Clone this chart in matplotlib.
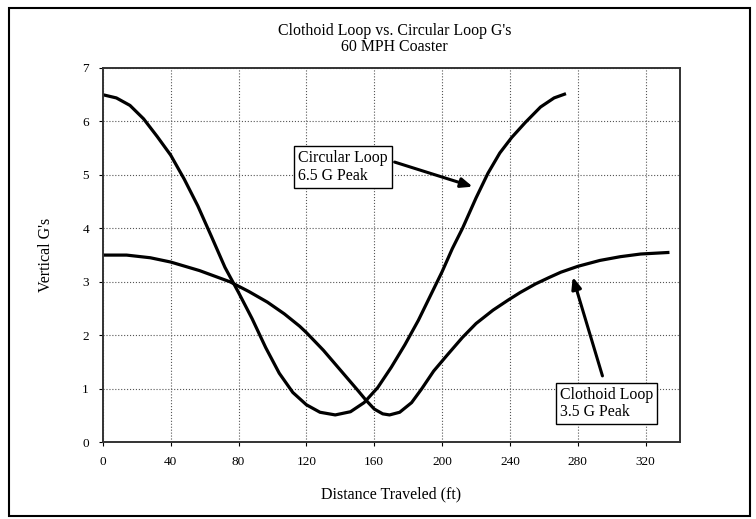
"""
Clothoid vs. circular loop vertical G's for a 60 MPH coaster.
"""

import matplotlib.pyplot as plt
from matplotlib.patches import Rectangle

# ── Data ──────────────────────────────────────────────────────────────────

circular_x = [0, 8, 16, 24, 32, 40, 48, 56, 64, 72, 80, 88, 96, 104, 112, 120,
              128, 137, 146, 154, 162, 170, 178, 186, 194, 200, 206, 212, 220,
              227, 234, 241, 249, 258, 266, 273]
circular_g = [6.50, 6.44, 6.30, 6.05, 5.72, 5.37, 4.92, 4.42, 3.85, 3.27, 2.80,
              2.31, 1.77, 1.29, 0.93, 0.70, 0.56, 0.51, 0.57, 0.74, 1.02, 1.40,
              1.82, 2.28, 2.80, 3.19, 3.62, 4.00, 4.57, 5.03, 5.41, 5.70, 5.98,
              6.27, 6.44, 6.52]

clothoid_x = [0, 14, 28, 40, 57, 75, 86, 97, 107, 116, 120, 130, 140, 150, 155,
              160, 165, 169, 175, 182, 188, 195, 203, 212, 220, 230, 239, 246,
              255, 263, 270, 280, 293, 305, 317, 334]
clothoid_g = [3.50, 3.50, 3.45, 3.37, 3.21, 3.00, 2.82, 2.62, 2.40, 2.17, 2.05,
              1.72, 1.35, 0.98, 0.79, 0.62, 0.53, 0.51, 0.56, 0.74, 1.00, 1.33,
              1.63, 1.96, 2.22, 2.47, 2.66, 2.80, 2.96, 3.08, 3.18, 3.29, 3.40,
              3.47, 3.52, 3.55]

x_ticks = [0, 40, 80, 120, 160, 200, 240, 280, 320]
y_ticks = [0, 1, 2, 3, 4, 5, 6, 7]

# ── Style ──────────────────────────────────────────────────────────────────

plt.rcParams.update(
    {
        "font.family": ["Liberation Serif", "DejaVu Serif"],
        "font.size": 11.4,
    }
)

fig = plt.figure(figsize=(7.56, 5.19), dpi=100)
ax = fig.add_axes([0.136, 0.148, 0.763, 0.721])

ax.plot(circular_x, circular_g, color="black", linewidth=2.3, solid_capstyle="butt")
ax.plot(clothoid_x, clothoid_g, color="black", linewidth=2.3, solid_capstyle="butt")

ax.set_xlim(0, 340)
ax.set_ylim(0, 7)
ax.set_xticks(x_ticks)
ax.set_yticks(y_ticks)
ax.tick_params(labelsize=9.5, length=3, width=0.8, direction="out", pad=7)
ax.grid(True, linestyle=":", linewidth=0.8, color="#555555")
for side in ax.spines.values():
    side.set_linewidth(1.4)
    side.set_color("#333333")

ax.set_xlabel("Distance Traveled (ft)", fontsize=11.5, labelpad=13)
ax.set_ylabel("Vertical G's", fontsize=11.5, labelpad=20)
fig.text(0.522, 0.925, "Clothoid Loop vs. Circular Loop G's\n60 MPH Coaster",
         ha="center", va="center", fontsize=11.4, linespacing=0.95)

# Callout boxes with arrows
box = dict(boxstyle="square,pad=0.25", facecolor="white", edgecolor="black", linewidth=1.0)
ax.text(115, 5.46, "Circular Loop\n6.5 G Peak", ha="left", va="top",
        fontsize=11.4, linespacing=1.15, bbox=box, zorder=5)
ax.annotate("", xy=(218, 4.78), xytext=(172, 5.24),
            arrowprops=dict(arrowstyle="-|>,head_length=0.6,head_width=0.25",
                            color="black", lw=2.2, shrinkA=0, shrinkB=0))

ax.text(269.5, 1.04, "Clothoid Loop\n3.5 G Peak", ha="left", va="top",
        fontsize=11.4, linespacing=1.15, bbox=box, zorder=5)
ax.annotate("", xy=(277, 3.09), xytext=(294.5, 1.24),
            arrowprops=dict(arrowstyle="-|>,head_length=0.6,head_width=0.25",
                            color="black", lw=2.2, shrinkA=0, shrinkB=0))

# Outer frame around the whole chart
fig.patches.append(Rectangle((0.012, 0.006), 0.98, 0.979, transform=fig.transFigure,
                             fill=False, edgecolor="black", linewidth=1.5))

fig.savefig("out.png", dpi=100)
